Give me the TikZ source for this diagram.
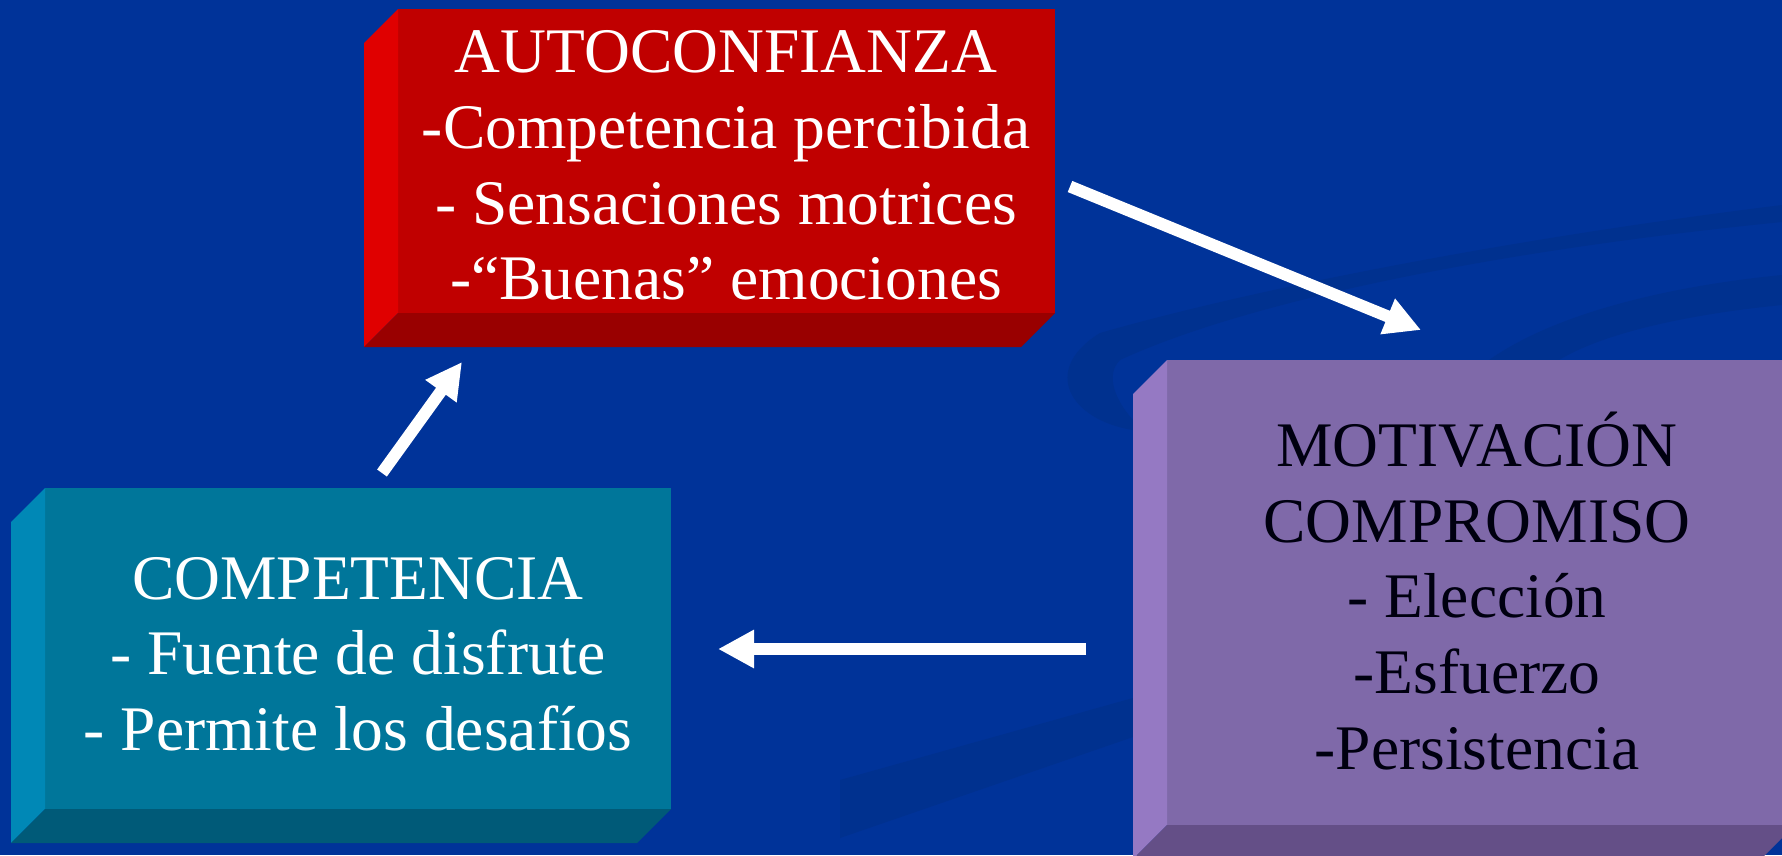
\documentclass[tikz,border=0pt]{standalone}
\usepackage{fontspec}
\setmainfont{Liberation Serif}
\usetikzlibrary{arrows.meta,calc}
\definecolor{bgblue}{HTML}{003399}
\definecolor{swirl}{HTML}{00318F}
\definecolor{redfront}{HTML}{C00000}
\definecolor{redside}{HTML}{E00000}
\definecolor{redbottom}{HTML}{990000}
\definecolor{tealfront}{HTML}{00769A}
\definecolor{tealside}{HTML}{0088B6}
\definecolor{tealbottom}{HTML}{005A78}
\definecolor{purfront}{HTML}{7F69A9}
\definecolor{purside}{HTML}{9579C3}
\definecolor{purbottom}{HTML}{644F87}
\definecolor{darktext}{HTML}{000010}
\tikzset{
  face/.style={rectangle, inner sep=0pt, outer sep=0pt, draw=none},
  linetext/.style={anchor=base, inner sep=0pt, font=\fontsize{63.5}{76}\selectfont},
  flow/.style={draw=white, line width=12pt, line cap=butt,
    -{Triangle[length=36pt,width=36pt]}},
}
\begin{document}
\begin{tikzpicture}[x=1pt,y=-1pt]
\useasboundingbox (0,0) rectangle (1782,855);
\fill[bgblue] (0,0) rectangle (1782,855);
% faint background swooshes
\fill[swirl] (1100,333) .. controls (1250,290) and (1500,240) .. (1782,205)
  -- (1782,222) .. controls (1500,250) and (1250,300) .. (1120,360)
  .. controls (1105,375) and (1115,400) .. (1133,420)
  -- (1133,430) .. controls (1070,420) and (1040,370) .. (1100,333) -- cycle;
\fill[swirl] (1489,360) .. controls (1560,310) and (1680,285) .. (1782,275)
  -- (1782,305) .. controls (1680,315) and (1600,335) .. (1559,360) -- cycle;
\fill[swirl] (840,780) -- (1133,698) -- (1133,737) -- (840,838) -- cycle;
% red box
\node[face, fill=redfront, minimum width=657pt, minimum height=304pt] (red) at (726.5,161) {};
\fill[redside] (red.north west) -- (red.south west) -- ++(-34,34) -- ($(red.north west)+(-34,34)$) -- cycle;
\fill[redbottom] (red.south west) -- (red.south east) -- ++(-34,34) -- ($(red.south west)+(-34,34)$) -- cycle;
% teal box
\node[face, fill=tealfront, minimum width=626pt, minimum height=321pt] (teal) at (358,648.5) {};
\fill[tealside] (teal.north west) -- (teal.south west) -- ++(-34,34) -- ($(teal.north west)+(-34,34)$) -- cycle;
\fill[tealbottom] (teal.south west) -- (teal.south east) -- ++(-34,34) -- ($(teal.south west)+(-34,34)$) -- cycle;
% purple box
\node[face, fill=purfront, minimum width=628pt, minimum height=465pt] (purple) at (1481,592.5) {};
\fill[purside] (purple.north west) -- (purple.south west) -- ++(-34,34) -- ($(purple.north west)+(-34,34)$) -- cycle;
\fill[purbottom] (purple.south west) -- (purple.south east) -- ++(-34,34) -- ($(purple.south west)+(-34,34)$) -- cycle;
% texts
\node[linetext, text=white] (r1) at (726,72) {AUTOCONFIANZA};
\node[linetext, text=white] (r2) at (726,148) {-Competencia percibida};
\node[linetext, text=white] (r3) at (726,224) {- Sensaciones motrices};
\node[linetext, text=white] (r4) at (726,299) {-“Buenas” emociones};
\node[linetext, text=white] (t1) at (358,599) {COMPETENCIA};
\node[linetext, text=white] (t2) at (358,674) {- Fuente de disfrute};
\node[linetext, text=white] (t3) at (358,750) {- Permite los desafíos};
\node[linetext, text=darktext] (p1) at (1477,466) {MOTIVACIÓN};
\node[linetext, text=darktext] (p2) at (1477,542) {COMPROMISO};
\node[linetext, text=darktext] (p3) at (1477,617) {- Elección};
\node[linetext, text=darktext] (p4) at (1477,693) {-Esfuerzo};
\node[linetext, text=darktext] (p5) at (1477,769) {-Persistencia};
% arrows
\coordinate (a1s) at (1070,186.5);
\coordinate (a1e) at (1421,330);
\coordinate (a2s) at (1086,649);
\coordinate (a2e) at (718,649);
\coordinate (a3s) at (382,473);
\coordinate (a3e) at (462,362);
\draw[flow] (a1s) -- (a1e);
\draw[flow] (a2s) -- (a2e);
\draw[flow] (a3s) -- (a3e);
\end{tikzpicture}
\end{document}
